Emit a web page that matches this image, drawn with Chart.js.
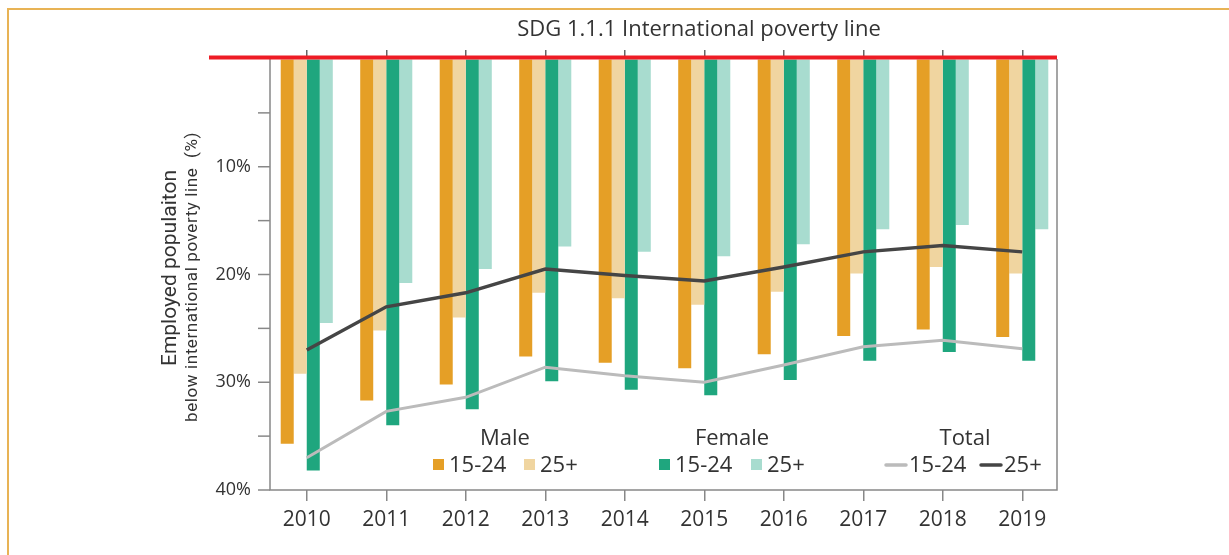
<!DOCTYPE html>
<html>
<head>
<meta charset="utf-8">
<script src="https://cdn.jsdelivr.net/npm/chart.js@4"></script>
<style>
  html, body { margin: 0; padding: 0; background: #ffffff; }
  #wrap { position: relative; width: 1229px; height: 555px; overflow: hidden; }
  #frame { position: absolute; left: 7px; top: 8px; width: 1300px; height: 600px;
           border-top: 2px solid #E8B355; border-left: 2px solid #E8B355; }
  canvas { position: absolute; left: 0; top: 0; }
</style>
</head>
<body>
<div id="wrap">
  <div id="frame"></div>
  <canvas id="c" width="1229" height="555"></canvas>
</div>
<script>
// ---- data ----
const years = ['2010','2011','2012','2013','2014','2015','2016','2017','2018','2019'];
const male1524   = [35.7, 31.7, 30.2, 27.6, 28.2, 28.7, 27.4, 25.7, 25.1, 25.8];
const male25     = [29.2, 25.2, 24.0, 21.7, 22.2, 22.8, 21.6, 19.9, 19.3, 19.9];
const female1524 = [38.2, 34.0, 32.5, 29.9, 30.7, 31.2, 29.8, 28.0, 27.2, 28.0];
const female25   = [24.5, 20.8, 19.5, 17.4, 17.9, 18.3, 17.2, 15.8, 15.4, 15.8];
const total1524  = [37.0, 32.7, 31.4, 28.6, 29.4, 30.0, 28.4, 26.7, 26.1, 26.9];
const total25    = [27.0, 23.0, 21.7, 19.5, 20.1, 20.6, 19.3, 17.9, 17.3, 17.9];
const yTickLabels = {10: '10%', 20: '20%', 30: '30%', 40: '40%'};
const groupNames = ['Male', 'Female', 'Total'];
const ageNames = ['15-24', '25+'];
const chartTitle = 'SDG 1.1.1 International poverty line';
const yTitleMain = 'Employed populaiton';
const yTitleSub = 'below international poverty line  (%)';

const C = {
  m1: '#E59F26', m2: '#F0D5A0', f1: '#1FA67E', f2: '#A8DCCF',
  t1: '#BBBBBB', t2: '#454545', axis: '#888888', text: '#333333', red: '#EE1C25'
};
const FONT = "'Open Sans', 'Liberation Sans', sans-serif";
const AX = {left: 270, right: 1057};

const decor = {
  id: 'decor',
  afterDatasetsDraw(chart) {
    const ctx = chart.ctx;
    const y = chart.scales.y;
    const area = chart.chartArea;
    const y0 = y.getPixelForValue(0);
    ctx.save();
    // axes frame lines
    ctx.strokeStyle = C.axis;
    ctx.lineWidth = 1.5;
    ctx.beginPath();
    ctx.moveTo(AX.left, area.top);
    ctx.lineTo(AX.left, area.bottom);
    ctx.lineTo(AX.right, area.bottom);
    ctx.lineTo(AX.right, area.top);
    ctx.stroke();
    // y tick marks
    y.ticks.forEach(t => {
      if (t.value === 0) return;
      const py = y.getPixelForValue(t.value);
      ctx.beginPath();
      ctx.moveTo(AX.left - 12, py);
      ctx.lineTo(AX.left, py);
      ctx.stroke();
    });
    // red poverty line
    ctx.strokeStyle = C.red;
    ctx.lineWidth = 4;
    ctx.beginPath();
    ctx.moveTo(209, y0 - 1.5);
    ctx.lineTo(AX.right, y0 - 1.5);
    ctx.stroke();
    ctx.restore();
  },
  afterDraw(chart) {
    const ctx = chart.ctx;
    ctx.save();
    ctx.fillStyle = C.text;
    // title
    ctx.font = "22px " + FONT;
    ctx.textAlign = 'center';
    ctx.textBaseline = 'alphabetic';
    ctx.fillText(chartTitle, 699, 36);
    // y axis titles
    ctx.save();
    ctx.translate(176, 268);
    ctx.rotate(-Math.PI / 2);
    ctx.font = "21px Roboto, sans-serif";
    ctx.fillText(yTitleMain, 0, 0);
    ctx.restore();
    ctx.save();
    ctx.translate(197, 277);
    ctx.rotate(-Math.PI / 2);
    ctx.font = "17px Roboto, sans-serif";
    ctx.letterSpacing = '0.6px';
    ctx.fillText(yTitleSub, 0, 0);
    ctx.restore();

    // legend
    const ds = chart.data.datasets;
    const headers = [[groupNames[0], 505], [groupNames[1], 732], [groupNames[2], 965]];
    ctx.font = "22px " + FONT;
    ctx.textAlign = 'center';
    headers.forEach(h => ctx.fillText(h[0], h[1], 445));
    ctx.textAlign = 'left';
    const items = [
      {ds: 2, x: 433, kind: 'box'}, {ds: 3, x: 524, kind: 'box'},
      {ds: 4, x: 659, kind: 'box'}, {ds: 5, x: 751, kind: 'box'},
      {ds: 0, x: 885, kind: 'line'}, {ds: 1, x: 980, kind: 'line'}
    ];
    items.forEach(it => {
      const d = ds[it.ds];
      if (it.kind === 'box') {
        ctx.fillStyle = d.backgroundColor;
        ctx.fillRect(it.x, 459, 11, 11);
        ctx.fillStyle = C.text;
        ctx.fillText(d.label.split(' ')[1], it.x + 16, 472);
      } else {
        ctx.strokeStyle = d.borderColor;
        ctx.lineWidth = 3.5;
        ctx.lineCap = 'round';
        ctx.beginPath();
        ctx.moveTo(it.x + 1, 465);
        ctx.lineTo(it.x + 21, 465);
        ctx.stroke();
        ctx.fillStyle = C.text;
        ctx.fillText(d.label.split(' ')[1], it.x + 24, 472);
      }
    });
    ctx.restore();
  }
};

new Chart(document.getElementById('c'), {
  type: 'bar',
  data: {
    labels: years,
    datasets: [
      {type: 'line', label: 'Total ' + ageNames[0], data: total1524, borderColor: C.t1, borderWidth: 3,
       pointRadius: 0, tension: 0, order: 0, fill: false},
      {type: 'line', label: 'Total ' + ageNames[1], data: total25, borderColor: C.t2, borderWidth: 3.5,
       pointRadius: 0, tension: 0, order: 0, fill: false},
      {label: 'Male ' + ageNames[0], data: male1524, backgroundColor: C.m1, order: 1},
      {label: 'Male ' + ageNames[1], data: male25, backgroundColor: C.m2, order: 1},
      {label: 'Female ' + ageNames[0], data: female1524, backgroundColor: C.f1, order: 1},
      {label: 'Female ' + ageNames[1], data: female25, backgroundColor: C.f2, order: 1}
    ]
  },
  options: {
    responsive: false,
    animation: false,
    devicePixelRatio: 1,
    layout: {padding: {left: 0, top: 0, bottom: 0, right: 167}},
    datasets: {bar: {categoryPercentage: 0.655, barPercentage: 1.0, borderWidth: 0}},
    plugins: {legend: {display: false}, tooltip: {enabled: false}, title: {display: false}},
    scales: {
      x: {
        type: 'category', position: 'bottom', offset: true,
        grid: {offset: false, drawOnChartArea: false, drawTicks: true, tickLength: 11, color: C.axis, lineWidth: 1.5},
        border: {display: false},
        ticks: {color: C.text, font: {family: FONT, size: 21}, padding: 6, maxRotation: 0},
        afterFit(s) { s.height = 65; }
      },
      x2: {
        type: 'category', position: 'top', offset: true, labels: years,
        grid: {offset: false, drawOnChartArea: false, drawTicks: true, tickLength: 9, color: '#666666', lineWidth: 1.5},
        border: {display: false},
        ticks: {display: false},
        afterFit(s) { s.height = 59; }
      },
      y: {
        position: 'left', min: 0, max: 40, reverse: true,
        grid: {drawOnChartArea: false, drawTicks: false},
        border: {display: false},
        ticks: {stepSize: 5, color: C.text, font: {family: FONT, size: 18}, padding: 16,
                callback: v => yTickLabels[v] || ''},
        afterFit(s) { s.width = 267; }
      }
    }
  },
  plugins: [decor]
});
</script>
</body>
</html>
